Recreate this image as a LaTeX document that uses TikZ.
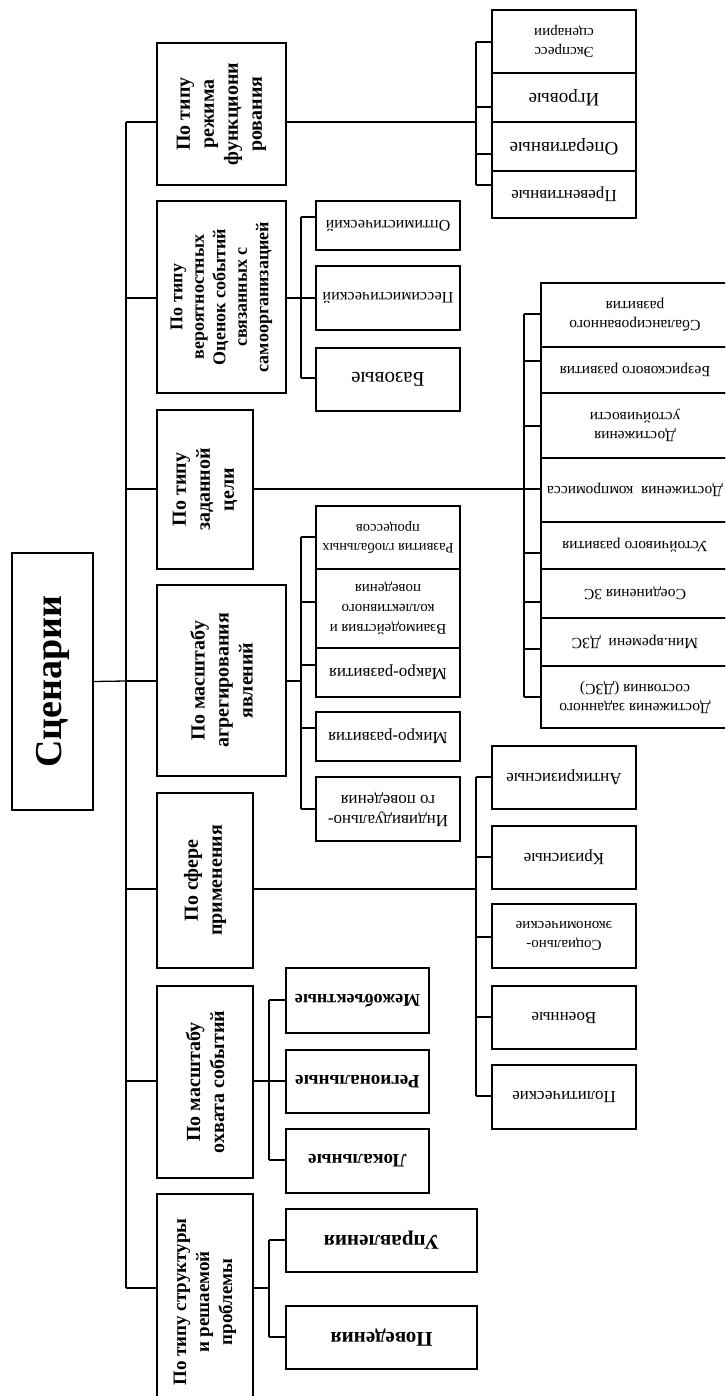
\documentclass[tikz,border=0pt]{standalone}
\usepackage{fontspec}
\setmainfont{Liberation Serif}

\begin{document}
\begin{tikzpicture}[
  x=1pt, y=-1pt,
  line width=1.3pt,
  box/.style = {draw, inner sep=2pt, align=center},
  rootbox/.style = {box, rotate=90, font=\bfseries\fontsize{38}{42}\selectfont},
  mainbox/.style = {box, rotate=90, font=\bfseries\fontsize{20}{24}\selectfont},
  subbox/.style = {box, rotate=180, font=\fontsize{16}{19}\selectfont},
  subbold/.style = {subbox, font=\bfseries\fontsize{19}{22}\selectfont}
  ]
  \useasboundingbox (0,0) rectangle (725,1396);
  \clip (0,0) rectangle (725,1396);

  % root and main groups
  \node[rootbox, minimum width=257pt, minimum height=81pt] (root) at (52.5,681.5) {Сценарии};

  \node[mainbox, minimum width=142pt, minimum height=129pt] (m1) at (221.5,114) {По типу\\режима\\функциони\\рования};
  \node[mainbox, minimum width=192pt, minimum height=129pt, font=\bfseries\fontsize{18}{21.5}\selectfont] (m2) at (221.5,297) {По типу\\вероятностных\\Оценок событий\\связанных с\\самоорганизацией};
  \node[mainbox, minimum width=159pt, minimum height=96pt] (m3) at (205,489.5) {По типу\\заданной\\цели};
  \node[mainbox, minimum width=191pt, minimum height=129pt] (m4) at (221.5,680.5) {По масштабу\\агрегирования\\явлений};
  \node[mainbox, minimum width=175pt, minimum height=96pt] (m5) at (205,880.5) {По сфере\\применения};
  \node[mainbox, minimum width=192pt, minimum height=96pt] (m6) at (205,1082) {По масштабу\\охвата событий};
  \node[mainbox, minimum width=216pt, minimum height=96pt, font=\bfseries\fontsize{19}{23}\selectfont] (m7) at (205,1302) {По типу структуры\\и решаемой\\проблемы};

  % regime
  \node[subbox, minimum width=144pt, minimum height=63pt, font=\fontsize{15}{19}\selectfont] (r1) at (564,41.5) {Экспресс\\сценарии};
  \node[subbox, minimum width=144pt, minimum height=49pt, font=\fontsize{19}{22}\selectfont] (r2) at (564,97.5) {Игровые};
  \node[subbox, minimum width=144pt, minimum height=49pt, font=\fontsize{19}{22}\selectfont] (r3) at (564,146.5) {Оперативные};
  \node[subbox, minimum width=144pt, minimum height=47pt, font=\fontsize{17}{20}\selectfont] (r4) at (564,194.5) {Превентивные};

  % estimates
  \node[subbox, minimum width=144pt, minimum height=49pt] (v1) at (388,225.5) {Оптимистический};
  \node[subbox, minimum width=144pt, minimum height=64pt] (v2) at (388,298) {Пессимистический};
  \node[subbox, minimum width=144pt, minimum height=63pt, font=\fontsize{21}{24}\selectfont] (v3) at (388,379.5) {Базовые};

  % goal
  \node[subbox, minimum width=188pt, minimum height=64pt, font=\fontsize{15.5}{19}\selectfont] (g1) at (635,315) {Сбалансированного\\развития};
  \node[subbox, minimum width=188pt, minimum height=46pt, font=\fontsize{15.5}{19}\selectfont] (g2) at (635,370) {Безрискового развития};
  \node[subbox, minimum width=188pt, minimum height=65pt, font=\fontsize{15.5}{19}\selectfont] (g3) at (635,425.5) {Достижения\\устойчивости};
  \node[subbox, minimum width=188pt, minimum height=64pt, font=\fontsize{15.5}{19}\selectfont] (g4) at (635,490) {Достижения~~компромисса};
  \node[subbox, minimum width=188pt, minimum height=47pt, font=\fontsize{15.5}{19}\selectfont] (g5) at (635,545.5) {Устойчивого развития};
  \node[subbox, minimum width=188pt, minimum height=49pt, font=\fontsize{15.5}{19}\selectfont] (g6) at (635,593.5) {Соединения 3С};
  \node[subbox, minimum width=188pt, minimum height=48pt, font=\fontsize{15.5}{19}\selectfont] (g7) at (635,642) {Мин.времени~~ДЗС};
  \node[subbox, minimum width=188pt, minimum height=62pt, font=\fontsize{15.5}{19}\selectfont] (g8) at (635,697) {Достижения заданного\\состояния (ДЗС)};

  % aggregation
  \node[subbox, minimum width=144pt, minimum height=63pt, font=\fontsize{14.5}{19}\selectfont] (a1) at (388,537.5) {Развития глобальных\\процессов};
  \node[subbox, minimum width=144pt, minimum height=79pt, font=\fontsize{15}{20}\selectfont] (a2) at (388,608.5) {Взаимодействия и\\коллективного\\поведения};
  \node[subbox, minimum width=144pt, minimum height=49pt, font=\fontsize{17}{20}\selectfont] (a3) at (388,672.5) {Макро-развития};
  \node[subbox, minimum width=144pt, minimum height=49pt, font=\fontsize{17}{20}\selectfont] (a4) at (388,736.5) {Микро-развития};
  \node[subbox, minimum width=144pt, minimum height=64pt, font=\fontsize{17}{20}\selectfont] (a5) at (388,809) {Индивидуально-\\го поведения};

  % sphere
  \node[subbox, minimum width=144pt, minimum height=63pt, font=\fontsize{17}{20}\selectfont] (f1) at (564,777.5) {Антикризисные};
  \node[subbox, minimum width=144pt, minimum height=63pt, font=\fontsize{17}{20}\selectfont] (f2) at (564,857.5) {Кризисные};
  \node[subbox, minimum width=144pt, minimum height=64pt, font=\fontsize{15}{19}\selectfont] (f3) at (564,936) {Социально-\\экономические};
  \node[subbox, minimum width=144pt, minimum height=63pt, font=\fontsize{17}{20}\selectfont] (f4) at (564,1017.5) {Военные};
  \node[subbox, minimum width=144pt, minimum height=64pt, font=\fontsize{17}{20}\selectfont] (f5) at (564,1097) {Политические};

  % coverage
  \node[subbold, minimum width=143pt, minimum height=65pt, font=\bfseries\fontsize{18}{21}\selectfont] (o1) at (357.5,1000.5) {Межобъектные};
  \node[subbold, minimum width=143pt, minimum height=63pt] (o2) at (357.5,1081.5) {Региональные};
  \node[subbold, minimum width=143pt, minimum height=64pt] (o3) at (357.5,1161) {Локальные};

  % structure
  \node[subbold, minimum width=191pt, minimum height=63pt, font=\bfseries\fontsize{21}{24}\selectfont] (p1) at (381.5,1240.5) {Управления};
  \node[subbold, minimum width=191pt, minimum height=63pt, font=\bfseries\fontsize{21}{24}\selectfont] (p2) at (381.5,1337.5) {Поведения};

  % trunk
  \draw (root.south) -- (126,681);
  \draw (126,122) -- (126,1288);
  \foreach \m/\y in {m1/122, m2/298, m3/489, m4/681, m5/889, m6/1081, m7/1288}
    \draw (126,\y) -- (\m.north |- 0,\y);

  % branches
  \draw (m1.south |- 0,122) -- (476,122);
  \draw (476,42) -- (476,185);
  \foreach \b/\y in {r1/42, r2/107, r3/154, r4/185}
    \draw (476,\y) -- (\b.east |- 0,\y);

  \draw (m2.south |- 0,298) -- (301,298);
  \draw (301,217) -- (301,378);
  \foreach \b/\y in {v1/217, v2/298, v3/378}
    \draw (301,\y) -- (\b.east |- 0,\y);

  \draw (m3.south |- 0,489) -- (524,489);
  \draw (524,314) -- (524,697);
  \foreach \b/\y in {g1/314, g2/361, g3/426, g4/489, g5/553, g6/602, g7/649, g8/697}
    \draw (524,\y) -- (\b.east |- 0,\y);

  \draw (m4.south |- 0,681) -- (301,681);
  \draw (301,537) -- (301,809);
  \foreach \b/\y in {a1/537, a2/602, a3/665, a4/728, a5/809}
    \draw (301,\y) -- (\b.east |- 0,\y);

  \draw (m5.south |- 0,889) -- (476,889);
  \draw (476,777) -- (476,1096);
  \foreach \b/\y in {f1/777, f2/857, f3/937, f4/1017, f5/1096}
    \draw (476,\y) -- (\b.east |- 0,\y);

  \draw (m6.south |- 0,1081) -- (269,1081);
  \draw (269,1000) -- (269,1160);
  \foreach \b/\y in {o1/1000, o2/1081, o3/1160}
    \draw (269,\y) -- (\b.east |- 0,\y);

  \draw (m7.south |- 0,1288) -- (269,1288);
  \draw (269,1240) -- (269,1337);
  \foreach \b/\y in {p1/1240, p2/1337}
    \draw (269,\y) -- (\b.east |- 0,\y);
\end{tikzpicture}
\end{document}
